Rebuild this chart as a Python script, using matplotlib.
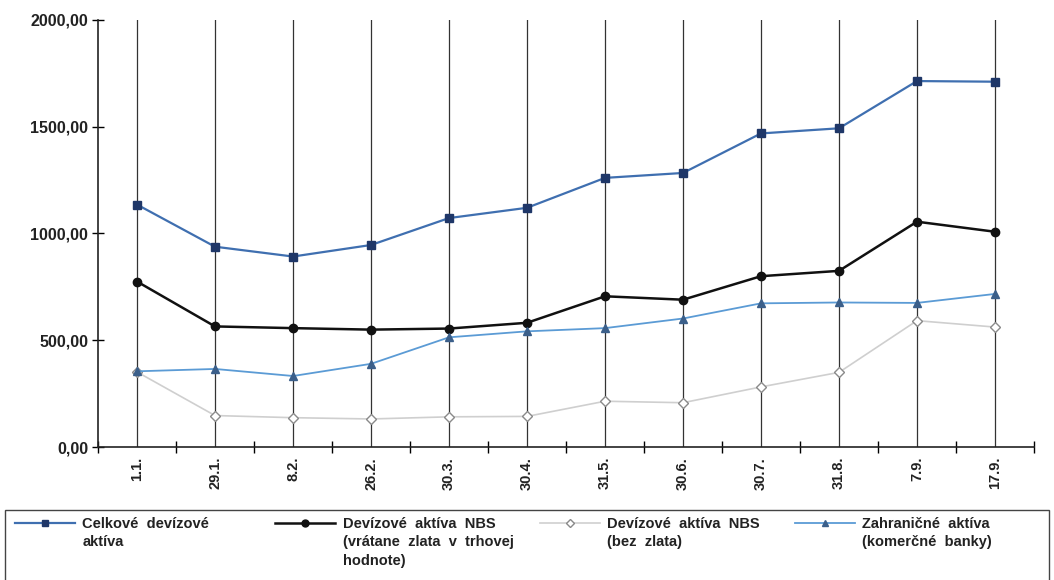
import numpy as np
import matplotlib.pyplot as plt
from matplotlib.lines import Line2D
from matplotlib.patches import Rectangle

plt.rcParams['font.family'] = ['Liberation Sans', 'DejaVu Sans']

datumy = ['1.1.', '29.1.', '8.2.', '26.2.', '30.3.', '30.4.', '31.5.', '30.6.', '30.7.', '31.8.', '7.9.', '17.9.']
celkove = [1135, 938, 892, 946, 1072, 1120, 1260, 1283, 1468, 1492, 1713, 1710]
nbs_zlato = [775, 565, 557, 550, 555, 582, 706, 690, 800, 825, 1055, 1008]
nbs_bez_zlata = [352, 148, 138, 132, 142, 144, 215, 208, 282, 350, 592, 562]
zahranicne = [355, 366, 333, 390, 514, 542, 557, 602, 673, 677, 675, 717]
y_ticks = [0, 500, 1000, 1500, 2000]
y_labels = ['0,00', '500,00', '1000,00', '1500,00', '2000,00']

fig = plt.figure(figsize=(10.54, 5.8), dpi=100)
ax = fig.add_axes([0.093, 0.229, 0.888, 0.737])
x = np.arange(len(datumy))

for xi in x:
    ax.axvline(xi, color='#333333', lw=0.9, zorder=1)

series = [
    (celkove, dict(color='#3f6fb0', lw=1.6, marker='s', ms=6, mfc='#1f3768', mec='#1f3768')),
    (nbs_zlato, dict(color='#111111', lw=1.8, marker='o', ms=6, mfc='#111111', mec='#111111')),
    (nbs_bez_zlata, dict(color='#cfcfcf', lw=1.2, marker='D', ms=5, mfc='white', mec='#8a8a8a')),
    (zahranicne, dict(color='#5b9bd5', lw=1.3, marker='^', ms=6, mfc='#3b5f8a', mec='#3b5f8a')),
]
for vals, st in series:
    ax.plot(x, vals, zorder=3, **st)

ax.set_xlim(-0.5, len(datumy) - 0.5)
ax.set_ylim(0, 2000)
ax.spines['top'].set_visible(False)
ax.spines['right'].set_visible(False)
for s in ['left', 'bottom']:
    ax.spines[s].set_color('#222222')
    ax.spines[s].set_linewidth(1.2)

ax.set_yticks(y_ticks)
ax.set_yticklabels(y_labels, fontsize=11.5, fontweight='bold', color='#222222')
ax.tick_params(axis='y', direction='inout', length=8, width=1, pad=3)
ax.set_xticks(x)
ax.set_xticklabels(datumy, rotation=90, fontsize=10.5, fontweight='bold', color='#222222')
ax.tick_params(axis='x', which='major', length=0, pad=7)
ax.set_xticks(np.arange(-0.5, len(datumy), 1.0), minor=True)
ax.tick_params(axis='x', which='minor', direction='inout', length=8, width=1)

# legenda
fig.patches.append(Rectangle((0.005, -0.05), 0.99, 0.171, transform=fig.transFigure,
                             fill=False, edgecolor='#444444', lw=1.0))
labels = ['Celkové  devízové\naktíva',
          'Devízové  aktíva  NBS\n(vrátane  zlata  v  trhovej\nhodnote)',
          'Devízové  aktíva  NBS\n(bez  zlata)',
          'Zahraničné  aktíva\n(komerčné  banky)']
hx = [0.014, 0.261, 0.512, 0.754]
for (vals, st), lab, x0 in zip(series, labels, hx):
    fig.lines.append(Line2D([x0, x0 + 0.0285, x0 + 0.057], [0.098, 0.098, 0.098],
                            transform=fig.transFigure, markevery=[1],
                            **{**st, 'ms': st['ms'] - 1}))
    fig.text(x0 + 0.064, 0.109, lab, fontsize=10.5, fontweight='bold', color='#222222',
             va='top', ha='left', linespacing=1.4)

fig.savefig('out.png', dpi=100)
